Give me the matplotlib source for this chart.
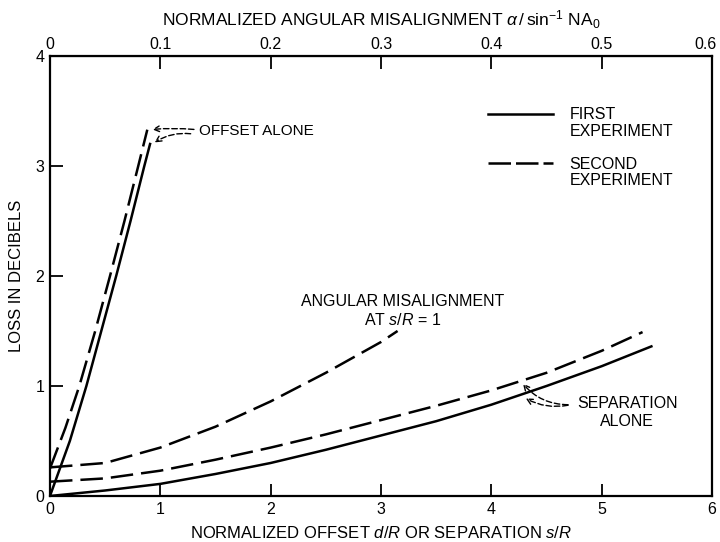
import matplotlib
matplotlib.use("Agg")
import matplotlib.pyplot as plt
from matplotlib.lines import Line2D
from matplotlib.transforms import ScaledTranslation

plt.rcParams['font.family'] = ['Liberation Sans', 'DejaVu Sans']
plt.rcParams['mathtext.fontset'] = 'custom'
plt.rcParams['mathtext.rm'] = 'Liberation Sans'
plt.rcParams['mathtext.it'] = 'Liberation Sans:italic'

# offset alone
off1_x = [0, 0.18, 0.33, 0.465, 0.60, 0.73, 0.855, 0.907]
off1_y = [0, 0.50, 1.00, 1.50, 2.00, 2.50, 3.00, 3.20]
off2_x = [0, 0.14, 0.266, 0.41, 0.544, 0.675, 0.80, 0.882]
off2_y = [0.25, 0.62, 1.00, 1.50, 2.00, 2.50, 3.00, 3.33]

# separation alone
sep1_x = [0, 0.5, 1.0, 1.5, 2.0, 2.5, 3.0, 3.5, 4.0, 4.5, 5.0, 5.45]
sep1_y = [0, 0.05, 0.11, 0.20, 0.30, 0.42, 0.55, 0.68, 0.83, 1.00, 1.18, 1.36]
sep2_x = [0, 0.5, 1.0, 1.5, 2.0, 2.5, 3.0, 3.5, 4.0, 4.5, 5.0, 5.37]
sep2_y = [0.13, 0.16, 0.23, 0.33, 0.44, 0.56, 0.69, 0.82, 0.96, 1.12, 1.32, 1.49]

# angular misalignment at s/R = 1 (second experiment)
ang_x = [0, 0.5, 1.0, 1.5, 2.0, 2.5, 3.0, 3.15]
ang_y = [0.26, 0.30, 0.44, 0.63, 0.86, 1.12, 1.40, 1.50]

x_ticks = [0, 1, 2, 3, 4, 5, 6]
y_ticks = [0, 1, 2, 3, 4]
top_ticks = [0, 0.1, 0.2, 0.3, 0.4, 0.5, 0.6]
top_labels = ['0', '0.1', '0.2', '0.3', '0.4', '0.5', '0.6']

lw = 1.8
dash = (0, (9, 3.2))

fig = plt.figure(figsize=(7.2, 5.42), dpi=100)
ax = fig.add_axes([0.0694, 0.0849, 0.9196, 0.8118])

ax.plot(off1_x, off1_y, color='black', lw=lw)
ax.plot(off2_x, off2_y, color='black', lw=lw, linestyle=dash)
ax.plot(sep1_x, sep1_y, color='black', lw=lw)
ax.plot(sep2_x, sep2_y, color='black', lw=lw, linestyle=dash)
ax.plot(ang_x, ang_y, color='black', lw=lw, linestyle=dash)

ax.set_xlim(0, 6)
ax.set_ylim(0, 4)
ax.set_xticks(x_ticks)
ax.set_yticks(y_ticks)
ax.tick_params(direction='in', length=9, width=1.3, labelsize=11.5, pad=4)
for s in ax.spines.values():
    s.set_linewidth(1.6)

ax.set_xlabel(r'NORMALIZED OFFSET $\it{d/R}$ OR SEPARATION $\it{s/R}$', fontsize=12, labelpad=6)
ax.set_ylabel('LOSS IN DECIBELS', fontsize=12, labelpad=8)

top = ax.secondary_xaxis('top', functions=(lambda x: x / 10, lambda x: x * 10))
top.set_xticks(top_ticks)
top.set_xticklabels(top_labels)
top.tick_params(direction='in', length=9, width=1.3, labelsize=11.5, pad=3)
top.set_xlabel(r'NORMALIZED ANGULAR MISALIGNMENT $\alpha\,/\,\sin^{-1}\,\mathrm{NA}_0$',
               fontsize=12.5, labelpad=8)
# pull the last top label in so it stays inside the figure
last = top.get_xticklabels()[-1]
last.set_transform(last.get_transform() + ScaledTranslation(-0.07, 0, fig.dpi_scale_trans))

# legend drawn by hand
ax.add_line(Line2D([0.662, 0.760], [0.868, 0.868], transform=ax.transAxes,
                   color='black', lw=lw))
ax.add_line(Line2D([0.662, 0.760], [0.757, 0.757], transform=ax.transAxes,
                   color='black', lw=lw, linestyle=(0, (9, 2))))
ax.text(0.785, 0.847, 'FIRST\nEXPERIMENT', transform=ax.transAxes,
        fontsize=11.5, va='center', ha='left', linespacing=1.15)
ax.text(0.785, 0.735, 'SECOND\nEXPERIMENT', transform=ax.transAxes,
        fontsize=11.5, va='center', ha='left', linespacing=1.15)

# annotations
arrow = dict(arrowstyle='->', color='black', lw=1.0, linestyle=(0, (4, 2)))
ax.text(1.35, 3.32, 'OFFSET ALONE', fontsize=11, va='center', ha='left')
ax.annotate('', xy=(off2_x[-1] + 0.02, off2_y[-1]), xytext=(1.33, 3.33),
            arrowprops=dict(arrow, connectionstyle='arc3,rad=0.05'))
ax.annotate('', xy=(off1_x[-1] + 0.02, off1_y[-1]), xytext=(1.30, 3.29),
            arrowprops=dict(arrow, connectionstyle='arc3,rad=0.2'))

ax.text(3.2, 1.68, 'ANGULAR MISALIGNMENT\nAT $\\it{s/R}$ = 1', fontsize=11.5,
        ha='center', va='center', linespacing=1.25)

ax.text(5.23, 0.76, 'SEPARATION\nALONE', fontsize=11.5, ha='center', va='center',
        linespacing=1.25)
ax.annotate('', xy=(4.27, 1.04), xytext=(4.72, 0.83),
            arrowprops=dict(arrow, connectionstyle='arc3,rad=-0.25'))
ax.annotate('', xy=(4.29, 0.90), xytext=(4.72, 0.83),
            arrowprops=dict(arrow, connectionstyle='arc3,rad=-0.2'))

fig.savefig('out.png', dpi=100)
